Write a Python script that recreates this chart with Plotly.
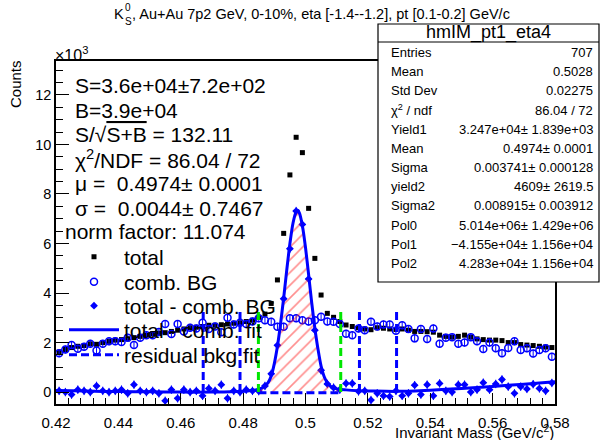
import numpy as np
import plotly.graph_objects as go

FONT = "Liberation Sans, Arial, Helvetica, sans-serif"
W, H = 602, 440
L, R, T, B = 56, 555, 61, 404  # plot frame in pixels


def fx(p):
    return (p - L) / (R - L)


def fy(p):
    return (B - p) / (B - T)


# ---------------- data (values in units of 10^3 counts) ----------------
bin_centers = np.round(0.421 + 0.002 * np.arange(80), 3)

total = [1.62, 1.72, 1.80, 1.85, 1.88, 1.95, 1.93, 2.00, 2.05, 2.10,
         2.12, 2.15, 2.20, 2.25, 2.30, 2.35, 2.38, 2.40, 2.45, 2.50,
         2.55, 2.60, 2.62, 2.65, 2.70, 2.70, 2.72, 2.75, 2.78, 2.80,
         2.85, 2.90, 3.02, 3.15, 3.58, 4.53, 6.41, 8.77, 10.29, 9.67,
         7.42, 5.40, 3.92, 3.18, 3.02, 2.85, 2.71, 2.65, 2.60, 2.55,
         2.52, 2.60, 2.58, 2.55, 2.53, 2.55, 2.50, 2.45, 2.45, 2.44,
         2.42, 2.30, 2.25, 2.22, 2.25, 2.30, 2.22, 2.15, 2.12, 2.10,
         2.10, 2.08, 2.00, 2.00, 1.92, 1.90, 1.88, 1.85, 1.82, 1.80]

comb_bg = [1.57, 1.72, 1.90, 1.75, 1.83, 1.95, 1.68, 1.95, 2.05, 2.05,
           2.02, 2.20, 1.90, 2.20, 2.30, 2.30, 2.43, 2.75, 2.35, 2.75,
           2.45, 2.60, 2.57, 2.80, 2.55, 2.65, 2.42, 3.00, 2.73, 2.80,
           2.75, 2.85, 2.98, 2.90, 2.84, 2.64, 2.64, 2.98, 2.98, 2.90,
           2.85, 2.90, 3.04, 2.85, 2.84, 2.75, 2.36, 2.30, 2.57, 2.50,
           2.84, 2.65, 2.73, 2.73, 2.48, 2.70, 2.55, 2.17, 2.55, 2.14,
           2.57, 1.95, 2.20, 2.22, 1.95, 2.00, 2.22, 2.05, 1.74, 2.00,
           1.77, 1.57, 1.78, 2.05, 1.70, 1.77, 1.56, 1.70, 1.77, 1.43]

comb_err = [0.16] * 80
diff_err = [0.17] * 80

total_minus_comb = np.array(total) - np.array(comb_bg)

# fitted curve (total - comb. fit)
fit_x = [0.420, 0.430, 0.440, 0.450, 0.460, 0.470, 0.478, 0.482, 0.484,
         0.486, 0.487, 0.488, 0.489, 0.490, 0.491, 0.492, 0.493, 0.494,
         0.495, 0.496, 0.497, 0.4975, 0.498, 0.499, 0.500, 0.501, 0.502,
         0.503, 0.504, 0.505, 0.506, 0.507, 0.508, 0.510, 0.513, 0.517,
         0.522, 0.530, 0.540, 0.550, 0.560, 0.570, 0.580]
fit_y = [0.07, 0.04, 0.02, 0.01, 0.00, 0.00, 0.02, 0.05, 0.09,
         0.16, 0.25, 0.38, 0.65, 1.15, 1.85, 2.76, 3.80, 4.94,
         6.00, 6.83, 7.28, 7.34, 7.25, 6.72, 5.84, 4.74, 3.60,
         2.58, 1.74, 1.05, 0.62, 0.38, 0.24, 0.13, 0.09, 0.06,
         0.04, 0.03, 0.08, 0.15, 0.23, 0.32, 0.42]

# residual background fit under the peak
resid_x = [0.4849, 0.5113]
resid_y = [-0.03, -0.03]

signal_window = [0.4849, 0.5113]
sideband_edges = [0.4672, 0.4790, 0.5173, 0.5292]
window_line_top = 3.4

x_ticks = [0.42, 0.44, 0.46, 0.48, 0.50, 0.52, 0.54, 0.56, 0.58]
x_tick_text = ["0.42", "0.44", "0.46", "0.48", "0.5", "0.52", "0.54", "0.56", "0.58"]
y_ticks = [0, 2, 4, 6, 8, 10, 12]

stats_labels = ["Entries", "Mean", "Std Dev", "χ<sup>2</sup> / ndf", "Yield1", "Mean",
                "Sigma", "yield2", "Sigma2", "Pol0", "Pol1", "Pol2"]
stats_values = ["707", "0.5028", "0.02275", "86.04 / 72", "3.247e+04± 1.839e+03",
                "0.4974± 0.0001", "0.003741± 0.000128", "4609± 2619.5",
                "0.008915± 0.003912", "5.014e+06± 1.429e+06",
                "−4.155e+04± 1.156e+04", "4.283e+04± 1.156e+04"]

info_lines = ["S=3.6e+04±7.2e+02",
              "B=3.9e+04",
              "S/√<span style='text-decoration:overline'>S+B</span> = 132.11",
              "χ<sup>2</sup>/NDF = 86.04 / 72",
              "μ =  0.4974± 0.0001",
              "σ =  0.0044± 0.7467"]
norm_text = "norm factor: 11.074"

BLUE = "#0000ff"
GREEN = "#00e600"

fig = go.Figure()

fig.add_trace(go.Scatter(
    x=bin_centers, y=total, mode="markers", name="total",
    marker=dict(symbol="square", size=5, color="black"),
    legend="legend"))

fig.add_trace(go.Scatter(
    x=bin_centers, y=comb_bg, mode="markers", name="comb. BG",
    marker=dict(symbol="circle-open", size=7, color=BLUE, line=dict(width=1.5, color=BLUE)),
    error_y=dict(type="data", array=comb_err, color=BLUE, thickness=1, width=0),
    legend="legend2"))

fig.add_trace(go.Scatter(
    x=bin_centers, y=total_minus_comb, mode="markers", name="total - comb. BG",
    marker=dict(symbol="diamond", size=6, color=BLUE),
    error_y=dict(type="data", array=diff_err, color=BLUE, thickness=1, width=0),
    error_x=dict(type="constant", value=0.001, color=BLUE, thickness=1, width=0),
    legend="legend3"))

# hatched signal area between fit and residual background
sig_x = [x for x in fit_x if signal_window[0] <= x <= signal_window[1]]
sig_y = [y for x, y in zip(fit_x, fit_y) if signal_window[0] <= x <= signal_window[1]]
fig.add_trace(go.Scatter(
    x=sig_x + resid_x[::-1], y=sig_y + resid_y[::-1], mode="lines",
    line=dict(width=0), fill="toself", fillcolor="rgba(0,0,0,0)",
    fillpattern=dict(shape="/", fgcolor="#ff2020", bgcolor="rgba(0,0,0,0)",
                     size=9, solidity=0.18),
    showlegend=False, hoverinfo="skip"))

fig.add_trace(go.Scatter(
    x=fit_x, y=fit_y, mode="lines", name="total - comb. fit",
    line=dict(color=BLUE, width=3, shape="spline", smoothing=0.6),
    legend="legend4"))

fig.add_trace(go.Scatter(
    x=resid_x, y=resid_y, mode="lines", name="residual bkg fit",
    line=dict(color=BLUE, width=3, dash="8px,4px"),
    legend="legend5"))

shapes = []
for xv in sideband_edges:
    shapes.append(dict(type="line", xref="x", yref="y", x0=xv, x1=xv, y0=0, y1=window_line_top,
                       line=dict(color=BLUE, width=3, dash="8px,4px")))
for xv in signal_window:
    shapes.append(dict(type="line", xref="x", yref="y", x0=xv, x1=xv, y0=0, y1=window_line_top,
                       line=dict(color=GREEN, width=3, dash="8px,4px")))

# stats box
shapes.append(dict(type="rect", xref="paper", yref="paper",
                   x0=fx(378), x1=fx(599), y0=fy(282), y1=fy(24),
                   fillcolor="white", line=dict(color="black", width=1.2), layer="above"))
shapes.append(dict(type="line", xref="paper", yref="paper",
                   x0=fx(378), x1=fx(599), y0=fy(42), y1=fy(42),
                   line=dict(color="black", width=1), layer="above"))

annotations = []


def ann(text, x, y, size, xanchor="left", yanchor="middle", **kw):
    annotations.append(dict(text=text, x=fx(x), y=fy(y), xref="paper", yref="paper",
                            xanchor=xanchor, yanchor=yanchor, showarrow=False,
                            font=dict(family=FONT, size=size, color="black"), **kw))


# title
ann("K", 112, 14, 14.5)
ann("0", 122.5, 8, 10)
ann("S", 122.5, 21, 10)
ann(", Au+Au 7p2 GeV, 0-10%, eta [-1.4--1.2], pt [0.1-0.2] GeV/c", 129.5, 14, 14.5)

# stats box text
ann("hmIM_pt1_eta4", 488.5, 33, 18, xanchor="center")
for i, (lab, val) in enumerate(zip(stats_labels, stats_values)):
    yy = 52.5 + 19.17 * i
    ann(lab, 389, yy, 13)
    ann(val, 595, yy, 13, xanchor="right")

# fit info block
for i, line in enumerate(info_lines):
    ann(line, 73, 85.5 + 24.6 * i, 21)
ann(norm_text, 63, 232, 21)

# axes decorations
ann("×10<sup>3</sup>", 53, 54, 16)
ann("Counts", 16, 58, 15, xanchor="center", yanchor="top", textangle=-90)
ann("Invariant Mass (GeV/c<sup>2</sup>)", 556, 431, 15, xanchor="right")

legend_y = [257, 282, 306, 330, 355]
legend_common = dict(xanchor="left", yanchor="middle", bgcolor="rgba(0,0,0,0)",
                     borderwidth=0, itemwidth=50,
                     font=dict(family=FONT, size=21, color="black"))
legends = {}
for i, yy in enumerate(legend_y):
    key = "legend" if i == 0 else f"legend{i + 1}"
    legends[key] = dict(x=fx(64), y=fy(yy), **legend_common)

fig.update_layout(
    width=W, height=H,
    margin=dict(l=L, r=W - R, t=T, b=H - B, pad=0),
    paper_bgcolor="white", plot_bgcolor="white",
    font=dict(family=FONT, size=15, color="black"),
    showlegend=True,
    shapes=shapes, annotations=annotations,
    **legends,
)

fig.update_xaxes(
    range=[0.42, 0.58], tickvals=x_ticks, ticktext=x_tick_text,
    ticks="inside", ticklen=11, tickwidth=1.3, tickcolor="black",
    showline=True, linecolor="black", linewidth=1.5, mirror=True,
    showgrid=False, zeroline=False, ticklabelstandoff=4, automargin=False,
    tickfont=dict(family=FONT, size=15),
    minor=dict(ticks="inside", ticklen=6, dtick=0.004, tick0=0.42, tickcolor="black", tickwidth=1.3),
)
fig.update_yaxes(
    range=[-0.48, 13.37], tickvals=y_ticks,
    ticks="inside", ticklen=13, tickwidth=1.3, tickcolor="black",
    showline=True, linecolor="black", linewidth=1.5, mirror=True,
    showgrid=False, zeroline=False, automargin=False,
    tickfont=dict(family=FONT, size=14.5),
    minor=dict(ticks="inside", ticklen=7, dtick=0.5, tick0=0, tickcolor="black", tickwidth=1.3),
)

fig.write_html("out.html")
